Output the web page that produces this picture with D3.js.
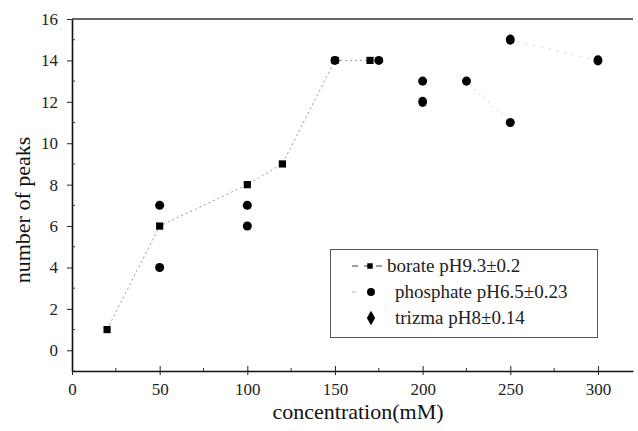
<!DOCTYPE html>
<html>
<head>
<meta charset="utf-8">
<script src="https://cdn.jsdelivr.net/npm/d3@7"></script>
<style>
  body { margin: 0; background: #fff; }
</style>
</head>
<body>
<div id="container"></div>
<script>
/* CONSTANTS AND GLOBALS */
const width = 638,
  height = 431,
  margin = { top: 19, right: 5, bottom: 60, left: 72 },
  serif = "'Liberation Serif', 'Times New Roman', 'DejaVu Serif', serif";

/* DATA */
const borate = [[20, 1], [50, 6], [100, 8], [120, 9], [150, 14], [170, 14]];
const phosphate = [[50, 7], [50, 4], [100, 7], [100, 6], [150, 14], [175, 14], [200, 13], [225, 13], [250, 11]];
const trizma = [[200, 12], [250, 15], [300, 14]];
const phosphateLine = [[225, 13], [250, 11]];
const trizmaLine = [[250, 15], [300, 14]];
const xTicks = [0, 50, 100, 150, 200, 250, 300];
const yTicks = [0, 2, 4, 6, 8, 10, 12, 14, 16];
const legendLabels = ["borate pH9.3\u00b10.2", "phosphate pH6.5\u00b10.23", "trizma pH8\u00b10.14"];

const svg = d3.select("#container")
  .append("svg")
  .attr("width", width)
  .attr("height", height)
  .style("font-family", serif)

/* SCALES */
const xScale = d3.scaleLinear()
  .domain([0, 320])
  .range([margin.left, 633])

const yScale = d3.scaleLinear()
  .domain([-1, 16])
  .range([371, margin.top])

/* AXES */
// x axis: major ticks cross the line, minor ticks inside
const xAxis = svg.append("g")
  .attr("transform", `translate(0,${yScale(-1)})`)
  .call(d3.axisBottom(xScale).tickValues(xTicks).tickSize(3).tickSizeOuter(0))
xAxis.attr("font-family", null)
xAxis.select(".domain").attr("stroke", "#111").attr("stroke-width", 1.6)
xAxis.selectAll(".tick line").attr("y1", -5).attr("y2", 4).attr("stroke", "#222")
xAxis.selectAll(".tick text").attr("dy", 0).attr("y", 24)
  .style("font-family", serif).style("font-size", "17px").attr("fill", "#222")

svg.append("g")
  .selectAll("line")
  .data(d3.range(25, 320, 50))
  .join("line")
  .attr("x1", d => xScale(d)).attr("x2", d => xScale(d))
  .attr("y1", yScale(-1)).attr("y2", yScale(-1) - 3)
  .attr("stroke", "#333")

const yAxis = svg.append("g")
  .attr("transform", `translate(${margin.left},0)`)
  .call(d3.axisLeft(yScale).tickValues(yTicks).tickSize(5).tickSizeOuter(0))
yAxis.attr("font-family", null)
yAxis.select(".domain").attr("stroke", "#111").attr("stroke-width", 1.6)
yAxis.selectAll(".tick line").attr("stroke", "#222")
yAxis.selectAll(".tick text").attr("x", -14)
  .style("font-family", serif).style("font-size", "17px").attr("fill", "#222")

svg.append("g")
  .selectAll("line")
  .data(d3.range(-1, 16, 2))
  .join("line")
  .attr("x1", margin.left).attr("x2", margin.left + 3)
  .attr("y1", d => yScale(d)).attr("y2", d => yScale(d))
  .attr("stroke", "#333")

// top frame line
svg.append("line")
  .attr("x1", margin.left).attr("x2", 633)
  .attr("y1", yScale(16)).attr("y2", yScale(16))
  .attr("stroke", "#333").attr("stroke-width", 1.4)

// axis titles
svg.append("text")
  .attr("text-anchor", "middle")
  .attr("x", 358)
  .attr("y", 419)
  .style("font-family", serif)
  .style("font-size", "22px")
  .attr("fill", "#111")
  .text("concentration(mM)")

svg.append("text")
  .attr("text-anchor", "middle")
  .attr("transform", "rotate(-90)")
  .attr("x", -210)
  .attr("y", 30)
  .style("font-family", serif)
  .style("font-size", "22px")
  .attr("fill", "#111")
  .text("number of peaks")

/* LINES */
const line = d3.line()
  .x(d => xScale(d[0]))
  .y(d => yScale(d[1]))

svg.append("path")
  .datum(borate)
  .attr("d", line)
  .attr("fill", "none")
  .attr("stroke", "#999")
  .attr("stroke-width", 1)
  .attr("stroke-dasharray", "2,3")

svg.append("path")
  .datum(phosphateLine)
  .attr("d", line)
  .attr("fill", "none")
  .attr("stroke", "#999")
  .attr("stroke-dasharray", "1,5")

svg.append("path")
  .datum(trizmaLine)
  .attr("d", line)
  .attr("fill", "none")
  .attr("stroke", "#aaa")
  .attr("stroke-dasharray", "1,7")

/* MARKERS */
const sq = d3.symbol().type(d3.symbolSquare).size(52)
const ci = d3.symbol().type(d3.symbolCircle).size(64)
const di = d3.symbol().type(d3.symbolDiamond).size(60)

svg.selectAll(".bor")
  .data(borate)
  .join("path")
  .attr("class", "bor")
  .attr("d", sq)
  .attr("transform", d => `translate(${xScale(d[0])},${yScale(d[1])})`)
  .attr("fill", "#000")

svg.selectAll(".phos")
  .data(phosphate)
  .join("path")
  .attr("class", "phos")
  .attr("d", ci)
  .attr("transform", d => `translate(${xScale(d[0])},${yScale(d[1])})`)
  .attr("fill", "#000")

svg.selectAll(".triz")
  .data(trizma)
  .join("path")
  .attr("class", "triz")
  .attr("d", d3.symbol().type(d3.symbolCircle).size(70))
  .attr("transform", d => `translate(${xScale(d[0])},${yScale(d[1])}) scale(0.95,1.08)`)
  .attr("fill", "#000")

/* LEGEND */
const legend = svg.append("g")

legend.append("rect")
  .attr("x", 330.5).attr("y", 249.5)
  .attr("width", 267).attr("height", 88)
  .attr("fill", "none")
  .attr("stroke", "#555")
  .attr("stroke-width", 1)

const rowY = d3.scalePoint()
  .domain(legendLabels)
  .range([266, 318])

legend.append("line")
  .attr("x1", 352).attr("x2", 386)
  .attr("y1", rowY(legendLabels[0])).attr("y2", rowY(legendLabels[0]))
  .attr("stroke", "#444")
  .attr("stroke-dasharray", "6,6")
legend.append("line")
  .attr("x1", 352).attr("x2", 356)
  .attr("y1", rowY(legendLabels[1])).attr("y2", rowY(legendLabels[1]))
  .attr("stroke", "#bbb")
legend.append("path")
  .attr("d", d3.symbol().type(d3.symbolSquare).size(30))
  .attr("transform", `translate(${370},${rowY(legendLabels[0])})`)
legend.append("path")
  .attr("d", d3.symbol().type(d3.symbolCircle).size(50))
  .attr("transform", `translate(${371},${rowY(legendLabels[1])})`)
legend.append("path")
  .attr("d", di)
  .attr("transform", `translate(${371},${rowY(legendLabels[2])})`)

legend.selectAll(".lab")
  .data(legendLabels)
  .join("text")
  .attr("class", "lab")
  .attr("x", (d, i) => i === 0 ? 387 : 395)
  .attr("y", d => rowY(d) + 6)
  .style("font-family", serif)
  .style("font-size", "19px")
  .attr("fill", "#222")
  .text(d => d)
</script>
</body>
</html>
